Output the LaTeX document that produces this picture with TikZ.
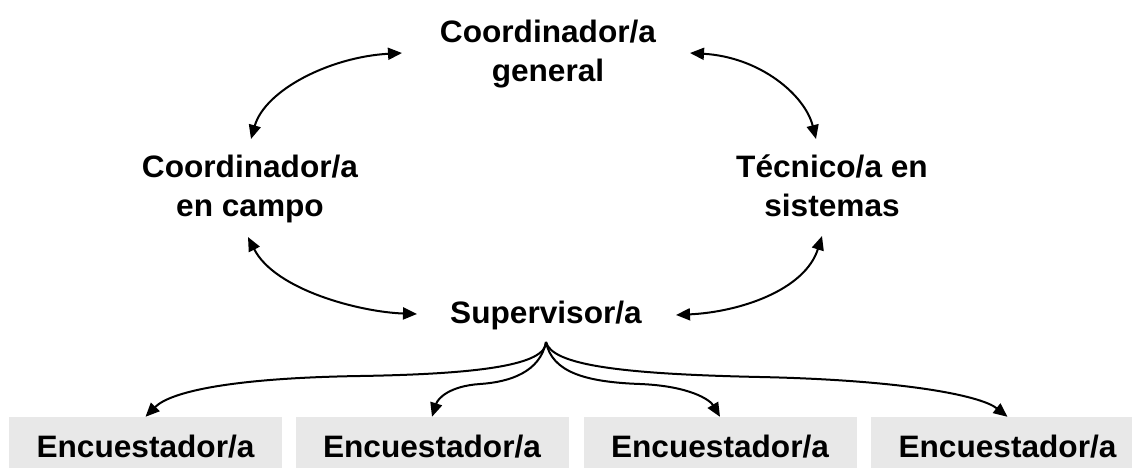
\documentclass[tikz,border=0pt]{standalone}
\usepackage{fontspec}
\setmainfont{Liberation Sans}[FakeStretch=1.02]
\usetikzlibrary{arrows.meta,calc}
\definecolor{boxgray}{HTML}{E8E8E8}
\tikzset{
  lbl/.style={inner sep=0pt, align=center, font=\fontsize{31}{39}\selectfont\bfseries},
  encbox/.style={fill=boxgray, inner sep=0pt, minimum width=273pt, minimum height=51pt,
    text height=29pt, text depth=0pt, font=\fontsize{31}{39}\selectfont\bfseries},
  link/.style={line width=2pt, {Triangle[length=14pt,width=12pt]}-{Triangle[length=14pt,width=12pt]}},
  fanarrow/.style={line width=2pt, -{Triangle[length=14pt,width=12pt]}}
}
\begin{document}
\begin{tikzpicture}[x=1pt,y=-1pt]
\useasboundingbox (0,0) rectangle (1132,469);
% nodes
\node[lbl, anchor=north] (gen) at (548,20) {Coordinador/a\\general};
\node[lbl, anchor=north] (campo) at (250,155) {Coordinador/a\\en campo};
\node[lbl, anchor=north] (tec) at (832,155) {Técnico/a en\\sistemas};
\node[lbl, anchor=base] (sup) at (546,323) {Supervisor/a};
\node[encbox] (b1) at (145.5,442.5) {Encuestador/a};
\node[encbox] (b2) at (432,442.5) {Encuestador/a};
\node[encbox] (b3) at (720,442.5) {Encuestador/a};
\node[encbox] (b4) at (1007.5,442.5) {Encuestador/a};
% connector ends
\coordinate (gl) at ($(gen.north)+(-146,33)$);
\coordinate (gr) at ($(gen.north)+(142,33)$);
\coordinate (ct) at ($(campo.north)+(1,-16)$);
\coordinate (cb) at ($(campo.north)+(-2,82)$);
\coordinate (tt) at ($(tec.north)+(-16,-16)$);
\coordinate (tb) at ($(tec.north)+(-10,81)$);
\coordinate (sl) at ($(sup.base)+(-129,-9)$);
\coordinate (sr) at ($(sup.base)+(130,-8)$);
\coordinate (fan) at ($(sup.base)+(0,19)$);
% double arrows
\draw[link] (ct) .. controls (265,90) and (330,57) .. (gl);
\draw[link] (gr) .. controls (760,57) and (805,95) .. (tt);
\draw[link] (cb) .. controls (275,290) and (360,312) .. (sl);
\draw[link] (tb) .. controls (805,290) and (740,312) .. (sr);
% fan
\draw[fanarrow] (fan) .. controls (546,365) and (480,374) .. (360,376) .. controls (230,378) and (170,392) .. (b1.north);
\draw[fanarrow] (fan) .. controls (540,372) and (510,382) .. (480,384) .. controls (450,386) and (438,398) .. (b2.north);
\draw[fanarrow] (fan) .. controls (552,372) and (585,382) .. (640,384) .. controls (690,386) and (710,400) .. (b3.north);
\draw[fanarrow] (fan) .. controls (552,365) and (620,374) .. (760,377) .. controls (900,380) and (980,395) .. (b4.north);
\end{tikzpicture}
\end{document}
